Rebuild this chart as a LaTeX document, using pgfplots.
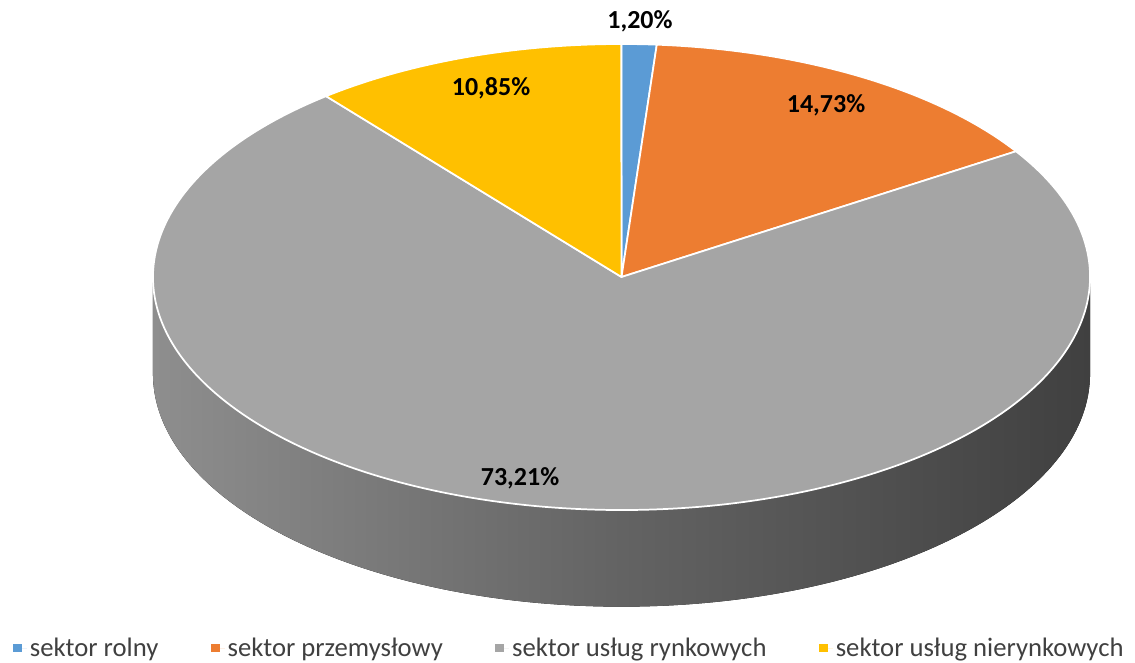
\documentclass[border=0pt]{standalone}
\usepackage{pgfplots}
\pgfplotsset{compat=1.18}
\usepackage{pgfplotstable}
\usepackage{fontspec}
\setmainfont{Carlito}
\definecolor{cRolny}{HTML}{5B9BD5}
\definecolor{cPrzem}{HTML}{ED7D31}
\definecolor{cRynk}{HTML}{A5A5A5}
\definecolor{cNier}{HTML}{FFC000}
\definecolor{legtext}{HTML}{404040}
\definecolor{sideL}{HTML}{8E8E8E}
\definecolor{sideM}{HTML}{636363}
\definecolor{sideR}{HTML}{404040}
\pgfplotstableread{
name value
rolny 1.20
przemyslowy 14.73
rynkowych 73.21
nierynkowych 10.85
}\piedata
\pgfplotsset{legsq/.style={legend image code/.code={\path (0pt,0pt) rectangle (10.5pt,0pt);\fill[##1] (0pt,-3.3pt) rectangle (6.6pt,3.3pt);}}}
\begin{document}
\begin{tikzpicture}
\pgfplotstablegetelem{0}{value}\of\piedata \let\vA\pgfplotsretval
\pgfplotstablegetelem{1}{value}\of\piedata \let\vB\pgfplotsretval
\pgfplotstablegetelem{2}{value}\of\piedata \let\vC\pgfplotsretval
\pgfplotstablegetelem{3}{value}\of\piedata \let\vD\pgfplotsretval
\pgfmathsetmacro\aA{90}
\pgfmathsetmacro\aB{\aA-3.6*\vA}
\pgfmathsetmacro\aC{\aB-3.6*\vB}
\pgfmathsetmacro\aD{\aC-3.6*\vC}
\pgfmathsetmacro\aE{\aD-3.6*\vD}
\def\rx{351.4pt}
\def\ry{174.75pt}
\def\dep{72.5pt}
\begin{axis}[hide axis, scale only axis, width=851.25pt, height=496.5pt,
  xmin=0, xmax=1135, ymin=0, ymax=662, clip=false,
  legend columns=4,
  legend style={at={(axis cs:13,14)}, anchor=west, draw=none, fill=none,
    inner sep=0pt, font=\fontsize{20}{23}\selectfont, text=legtext,
    /tikz/every even column/.append style={column sep=37.5pt}},
  legend cell align=left]
\addlegendimage{legsq, fill=cRolny, draw=none}
\addlegendentry{sektor rolny}
\addlegendimage{legsq, fill=cPrzem, draw=none}
\addlegendentry{sektor przemysłowy}
\addlegendimage{legsq, fill=cRynk, draw=none}
\addlegendentry{sektor usług rynkowych}
\addlegendimage{legsq, fill=cNier, draw=none}
\addlegendentry{sektor usług nierynkowych}
% side of the pie (front)
\fill[left color=sideL, right color=sideR, middle color=sideM] (axis cs:621.5,385) ++(180:{\rx} and {\ry})
  arc[start angle=180, end angle=360, x radius=\rx, y radius=\ry]
  -- ++(0pt,-\dep)
  arc[start angle=360, end angle=180, x radius=\rx, y radius=\ry] -- cycle;
% top slices
\filldraw[fill=cRolny, draw=white, line width=1.3pt, line join=round] (axis cs:621.5,385) -- ++(\aA:{\rx} and {\ry})
  arc[start angle=\aA, end angle=\aB, x radius=\rx, y radius=\ry] -- cycle;
\filldraw[fill=cPrzem, draw=white, line width=1.3pt, line join=round] (axis cs:621.5,385) -- ++(\aB:{\rx} and {\ry})
  arc[start angle=\aB, end angle=\aC, x radius=\rx, y radius=\ry] -- cycle;
\filldraw[fill=cRynk, draw=white, line width=1.3pt, line join=round] (axis cs:621.5,385) -- ++(\aC:{\rx} and {\ry})
  arc[start angle=\aC, end angle=\aD, x radius=\rx, y radius=\ry] -- cycle;
\filldraw[fill=cNier, draw=white, line width=1.3pt, line join=round] (axis cs:621.5,385) -- ++(\aD:{\rx} and {\ry})
  arc[start angle=\aD, end angle=\aE, x radius=\rx, y radius=\ry] -- cycle;
% data labels
\node[font=\bfseries\fontsize{19.5}{22}\selectfont] at (axis cs:640,641) {1,20\%};
\node[font=\bfseries\fontsize{19.5}{22}\selectfont] at (axis cs:826,557) {14,73\%};
\node[font=\bfseries\fontsize{19.5}{22}\selectfont] at (axis cs:491,574) {10,85\%};
\node[font=\bfseries\fontsize{19.5}{22}\selectfont] at (axis cs:520,184) {73,21\%};
\end{axis}
\pgfresetboundingbox
\useasboundingbox (current axis.south west) rectangle (current axis.north east);
\end{tikzpicture}
\end{document}
